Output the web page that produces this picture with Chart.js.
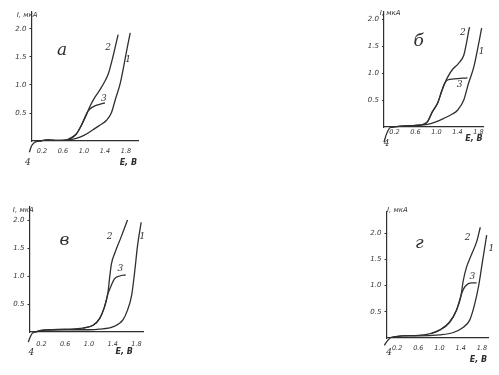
<!DOCTYPE html>
<html>
<head>
<meta charset="utf-8">
<script src="https://cdn.jsdelivr.net/npm/chart.js@4/dist/chart.umd.min.js"></script>
<style>
  body { margin: 0; background: #fff; }
  .panel { position: absolute; }
</style>
</head>
<body>
<div class="panel" id="pa"><canvas id="ca"></canvas></div>
<div class="panel" id="pb"><canvas id="cb"></canvas></div>
<div class="panel" id="pc"><canvas id="cc"></canvas></div>
<div class="panel" id="pd"><canvas id="cd"></canvas></div>
<script>
// tick labels, same on every panel
const xTicks = [0.2, 0.6, 1.0, 1.4, 1.8];
const yTicks = [0.5, 1.0, 1.5, 2.0];

// panel а : [E, I] points for curves 1-4
const a1 = [[0.15,0],[0.3,0.02],[0.5,0.01],[0.7,0.02],[0.87,0.05],[1.0,0.1],[1.17,0.2],[1.3,0.28],[1.43,0.37],[1.52,0.5],[1.6,0.75],[1.69,1.03],[1.76,1.35],[1.82,1.65],[1.88,1.93]];
const a2 = [[0.15,0],[0.3,0.02],[0.5,0.01],[0.7,0.03],[0.85,0.12],[0.95,0.28],[1.02,0.41],[1.11,0.61],[1.2,0.77],[1.3,0.91],[1.4,1.07],[1.47,1.22],[1.55,1.5],[1.6,1.7],[1.65,1.9]];
const a3 = [[0.7,0.03],[0.85,0.12],[0.95,0.28],[1.02,0.43],[1.08,0.54],[1.17,0.61],[1.28,0.65],[1.4,0.68]];
const a4 = [[-0.08,-0.34],[-0.04,-0.2],[0,-0.09],[0.05,-0.03],[0.1,-0.01],[0.18,0]];

// panel б
const b1 = [[0.15,0],[0.4,0.02],[0.6,0.03],[0.83,0.05],[1.0,0.1],[1.14,0.16],[1.3,0.24],[1.4,0.31],[1.52,0.5],[1.61,0.81],[1.71,1.11],[1.78,1.43],[1.86,1.83]];
const b2 = [[0.15,0],[0.4,0.02],[0.6,0.03],[0.75,0.05],[0.83,0.1],[0.92,0.28],[1.02,0.44],[1.11,0.69],[1.2,0.9],[1.3,1.06],[1.42,1.18],[1.52,1.33],[1.57,1.55],[1.61,1.76],[1.63,1.85]];
const b3 = [[0.75,0.05],[0.83,0.1],[0.92,0.28],[1.02,0.44],[1.1,0.67],[1.15,0.8],[1.21,0.87],[1.33,0.89],[1.59,0.91]];
const b4 = [[0,-0.28],[0.04,-0.15],[0.08,-0.06],[0.12,-0.01],[0.18,0]];

// panel в
const c1 = [[0.1,0],[0.2,0.03],[0.6,0.04],[1.0,0.04],[1.18,0.05],[1.4,0.09],[1.57,0.21],[1.65,0.39],[1.72,0.66],[1.77,1.07],[1.82,1.55],[1.88,1.96]];
const c2 = [[0.1,0],[0.2,0.03],[0.6,0.05],[0.9,0.07],[1.07,0.12],[1.18,0.24],[1.26,0.44],[1.32,0.7],[1.35,0.98],[1.38,1.22],[1.44,1.42],[1.54,1.69],[1.65,2.0]];
const c3 = [[0.9,0.07],[1.07,0.12],[1.18,0.24],[1.26,0.44],[1.32,0.68],[1.38,0.84],[1.43,0.95],[1.52,1.0],[1.62,1.02]];
const c4 = [[-0.05,-0.32],[-0.02,-0.18],[0.02,-0.07],[0.05,-0.02],[0.1,0]];

// panel г
const d1 = [[0.12,0.02],[0.3,0.04],[0.6,0.04],[1.0,0.06],[1.25,0.1],[1.43,0.19],[1.57,0.34],[1.66,0.63],[1.74,1.0],[1.81,1.45],[1.89,1.96]];
const d2 = [[0.12,0.02],[0.3,0.04],[0.6,0.05],[0.85,0.09],[1.0,0.15],[1.19,0.3],[1.32,0.53],[1.4,0.78],[1.45,1.1],[1.51,1.35],[1.6,1.58],[1.7,1.83],[1.77,2.11]];
const d3 = [[0.85,0.09],[1.0,0.15],[1.19,0.3],[1.32,0.53],[1.38,0.72],[1.43,0.88],[1.49,0.99],[1.6,1.05],[1.7,1.05]];
const d4 = [[-0.08,-0.23],[-0.04,-0.14],[0.02,-0.05],[0.07,0],[0.12,0.02]];

const ink = '#2f2f2f';
const small = 'italic 7px "DejaVu Sans"';
const axisName = 'italic bold 8px "DejaVu Sans"';
const num = 'italic 9px "DejaVu Serif"';
const big = 'italic 17px "DejaVu Serif"';

// where each panel sits on the page (pixels)
const panels = [
  { id: 'a', box: [0, 0, 165, 180], origin: [31.5, 141], per: [52.5, 56], end: [138, 12], gap: 6,
    curves: [a1, a2, a3, a4],
    notes: [['а', 0.58, 1.62, big], ['2', 1.46, 1.66, num], ['1', 1.84, 1.45, num], ['3', 1.38, 0.75, num], ['4', -0.07, -0.39, num],
            ['I, мкА', -0.28, 2.25, small, 'left'], ['Е, В', 2.01, -0.4, axisName, 'right']] },
  { id: 'b', box: [345, 0, 154, 170], origin: [384, 127], per: [52.5, 54], end: [483, 12], gap: 1,
    curves: [b1, b2, b3, b4],
    notes: [['б', 0.66, 1.59, big], ['2', 1.5, 1.74, num], ['1', 1.86, 1.39, num], ['3', 1.44, 0.78, num], ['4', 0.05, -0.31, num],
            ['I, мкА', -0.08, 2.11, small, 'left'], ['Е, В', 1.88, -0.22, axisName, 'right']] },
  { id: 'c', box: [0, 195, 165, 180], origin: [29.5, 332], per: [59.4, 56], end: [143, 207], gap: 8,
    curves: [c1, c2, c3, c4],
    notes: [['в', 0.59, 1.64, big], ['2', 1.35, 1.71, num], ['1', 1.9, 1.7, num], ['3', 1.53, 1.13, num], ['4', 0.03, -0.36, num],
            ['I, мкА', -0.28, 2.18, small, 'left'], ['Е, В', 1.74, -0.36, axisName, 'right']] },
  { id: 'd', box: [345, 195, 154, 180], origin: [386.5, 338], per: [53, 52.5], end: [488, 212], gap: 6,
    curves: [d1, d2, d3, d4],
    notes: [['г', 0.62, 1.8, big], ['2', 1.53, 1.92, num], ['1', 1.98, 1.71, num], ['3', 1.62, 1.16, num], ['4', 0.05, -0.27, num],
            ['I, мкА', 0.01, 2.44, small, 'left'], ['Е, В', 1.9, -0.42, axisName, 'right']] }
];

Chart.defaults.font.family = '"DejaVu Sans"';
Chart.defaults.font.style = 'italic';
Chart.defaults.font.size = 7;
Chart.defaults.color = '#333';

panels.forEach(p => {
  const [L, T, W, H] = p.box;
  const div = document.getElementById('p' + p.id);
  div.style.left = L + 'px';
  div.style.top = T + 'px';
  div.style.width = W + 'px';
  div.style.height = H + 'px';

  const notes = {
    id: 'notes',
    afterDraw(chart) {
      const ctx = chart.ctx;
      const xs = chart.scales.x, ys = chart.scales.y;
      ctx.save();
      ctx.fillStyle = ink;
      ctx.textBaseline = 'middle';
      p.notes.forEach(n => {
        ctx.font = n[3];
        ctx.textAlign = n[4] || 'center';
        ctx.fillText(n[0], xs.getPixelForValue(n[1]), ys.getPixelForValue(n[2]));
      });
      ctx.restore();
    }
  };

  new Chart(document.getElementById('c' + p.id), {
    type: 'line',
    data: {
      datasets: p.curves.map(c => ({
        data: c.map(pt => ({ x: pt[0], y: pt[1] })),
        borderColor: ink,
        borderWidth: 1.3,
        pointRadius: 0,
        cubicInterpolationMode: 'monotone',
        clip: false
      }))
    },
    options: {
      responsive: true,
      maintainAspectRatio: false,
      animation: false,
      layout: { padding: { top: p.end[1] - T, right: L + W - p.end[0], left: 0, bottom: 0 } },
      plugins: { legend: { display: false }, tooltip: { enabled: false } },
      scales: {
        x: {
          type: 'linear',
          min: 0,
          max: (p.end[0] - p.origin[0]) / p.per[0],
          afterFit: s => { s.height = T + H - p.origin[1]; },
          afterBuildTicks: s => { s.ticks = xTicks.map(v => ({ value: v })); },
          ticks: { padding: p.gap, maxRotation: 0, font: { size: 6.5 }, callback: v => v.toFixed(1) },
          grid: { display: false, drawTicks: false },
          border: { color: ink, width: 1.2 }
        },
        y: {
          type: 'linear',
          min: 0,
          max: (p.origin[1] - p.end[1]) / p.per[1],
          afterFit: s => { s.width = p.origin[0] - L; },
          afterBuildTicks: s => { s.ticks = yTicks.map(v => ({ value: v })); },
          ticks: { padding: 3, callback: v => v.toFixed(1) },
          grid: { drawOnChartArea: false, tickLength: 2, color: ink },
          border: { color: ink, width: 1.2 }
        }
      }
    },
    plugins: [notes]
  });
});
</script>
</body>
</html>
